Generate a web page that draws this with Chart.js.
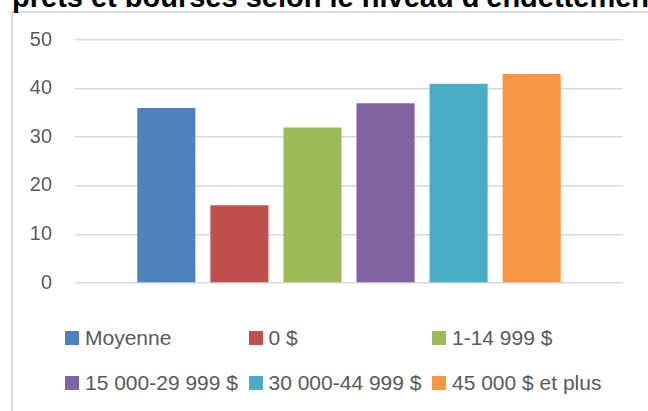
<!DOCTYPE html>
<html>
<head>
<meta charset="utf-8">
<script src="https://cdn.jsdelivr.net/npm/chart.js@4/dist/chart.umd.min.js"></script>
<style>
  html, body { margin: 0; padding: 0; background: #fff; }
  body { width: 648px; height: 411px; position: relative; overflow: hidden; font-family: 'Liberation Sans', Arial, sans-serif; }
  #frame { position: absolute; left: 11px; top: 11px; width: 700px; height: 500px; border-left: 2px solid #dcdcdc; border-top: 2px solid #dcdcdc; }
  #title { position: absolute; left: 12px; top: -17px; font-size: 29px; line-height: 29px; font-weight: bold; color: #000; white-space: nowrap; }
  #chart { position: absolute; left: 0; top: 0; }
  #legend { position: absolute; left: 65px; top: 326px; width: 560px; display: grid; grid-template-columns: 183.5px 183.5px 190px; row-gap: 21px; }
  .item { display: flex; align-items: center; height: 24px; font-size: 21px; color: #595959; white-space: nowrap; }
  .box { width: 14px; height: 14px; margin-right: 6px; flex: none; }
</style>
</head>
<body>
<div id="frame"></div>
<div id="title">prêts et bourses selon le niveau d'endettement</div>
<canvas id="chart" width="648" height="318"></canvas>
<div id="legend"></div>
<script>
const categories = [''];
const seriesNames = ['Moyenne', '0 $', '1-14 999 $', '15 000-29 999 $', '30 000-44 999 $', '45 000 $ et plus'];
const seriesValues = [36, 16, 32, 37, 41, 43];
const seriesColors = ['#4f81bd', '#c0504d', '#9bbb59', '#8064a2', '#4bacc6', '#f79646'];
const yMin = 0, yMax = 50, yStep = 10;

Chart.defaults.font.family = "'Liberation Sans', Arial, sans-serif";
Chart.defaults.color = '#595959';

const chart = new Chart(document.getElementById('chart'), {
  type: 'bar',
  data: {
    labels: categories,
    datasets: seriesNames.map((name, i) => ({
      label: name,
      data: [seriesValues[i]],
      backgroundColor: seriesColors[i],
      borderWidth: 0,
      categoryPercentage: 0.8,
      barPercentage: 0.795,
    }))
  },
  options: {
    responsive: false,
    devicePixelRatio: 1,
    animation: false,
    layout: { padding: { left: 0, right: 25, top: 40, bottom: 18 } },
    plugins: {
      legend: { display: false },
      tooltip: { enabled: false }
    },
    scales: {
      x: { display: false },
      y: {
        min: yMin,
        max: yMax,
        afterFit: s => { s.width = 75; },
        grid: { color: '#d9d9d9', lineWidth: 1.5, drawTicks: false },
        border: { display: false },
        ticks: { stepSize: yStep, padding: 23, font: { size: 20 }, color: '#595959' }
      }
    }
  }
});

// Legend in three columns, like the original
const legend = document.getElementById('legend');
chart.data.datasets.forEach(ds => {
  const item = document.createElement('div');
  item.className = 'item';
  const box = document.createElement('span');
  box.className = 'box';
  box.style.background = ds.backgroundColor;
  item.appendChild(box);
  item.appendChild(document.createTextNode(ds.label));
  legend.appendChild(item);
});
</script>
</body>
</html>
